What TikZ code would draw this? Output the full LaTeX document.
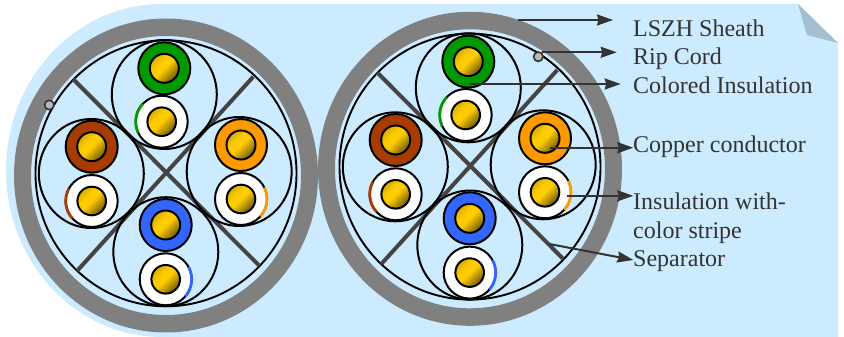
\documentclass[tikz,border=0pt]{standalone}
\usepackage{fontspec}
\setmainfont{Liberation Serif}
\usetikzlibrary{arrows.meta}
\definecolor{bgblue}{HTML}{CCEBFF}
\definecolor{fold}{HTML}{A3BFD1}
\definecolor{sheath}{HTML}{808080}
\definecolor{sep}{HTML}{444444}
\definecolor{ink}{HTML}{333333}
\definecolor{cgreen}{HTML}{009900}
\definecolor{cbrown}{HTML}{A83C00}
\definecolor{corange}{HTML}{FF9900}
\definecolor{cblue}{HTML}{3366FF}
\definecolor{cuA}{HTML}{FFCC00}
\definecolor{cuB}{HTML}{7F6600}
\pgfdeclareverticalshading{coreshade}{100bp}{color(0bp)=(cuB); color(28bp)=(cuB); color(50bp)=(cuA); color(60bp)=(cuA); color(78bp)=(cuB!35!cuA); color(100bp)=(cuB!70!cuA)}
\tikzset{
  sheathring/.style={draw=none,fill=sheath,even odd rule},
  thinring/.style={draw=black,line width=1.9pt},
  paircircle/.style={draw=black,line width=2pt},
  separator/.style={draw=sep,line width=4pt},
  core/.style={draw=black,line width=2pt,shading=coreshade,shading angle=45},
  insulation/.style={draw=black,line width=2pt,fill=#1},
  stripe/.style={draw=#1,line width=2.8pt},
  ripcord/.style={draw=black!80,line width=1.6pt,fill=gray!55},
  callout/.style={draw=ink,line width=2pt,-{Stealth[length=16pt,width=11pt,inset=1.5pt]}},
  lbl/.style={anchor=base west,inner sep=0pt,text=ink,font=\fontsize{24pt}{24pt}\selectfont},
}
\newcommand{\wirepair}[7]{%
  \path[paircircle] (#1,#2) ellipse [x radius=52.5,y radius=54.5];
  \path[insulation=#7] (#3,#4) circle [radius=26];
  \path[core] (#3,#4) circle [radius=14.5];
  \path[insulation=white] (#5,#6) circle [radius=26];
  \path[core] (#5,#6) circle [radius=14.3];
}
\newcommand{\cablebody}{%
  \path[sheathring] (166,175.5) ellipse [x radius=152,y radius=157] (166,175.5) ellipse [x radius=135,y radius=139.5];
  \path[thinring] (166,173.3) ellipse [x radius=130.5,y radius=133];
  \path[separator] (73.3,79.3) -- (259.3,265.7);
  \path[separator] (253.3,76.7) -- (77.3,270.7);
  \wirepair{164.3}{94.5}{164.3}{68.3}{161.7}{121.7}{cgreen}
  \path[stripe=cgreen] (161.7,121.7) ++(-137:26) arc [start angle=-137,end angle=-205,radius=26];
  \wirepair{91.3}{173.5}{91.7}{146.7}{91.7}{201}{cbrown}
  \path[stripe=cbrown] (91.7,201) ++(-151.5:26) arc [start angle=-151.5,end angle=-222,radius=26];
  \wirepair{239.2}{171.5}{241}{145}{241}{199}{corange}
  \path[stripe=corange] (241,199) ++(-26:26) arc [start angle=-26,end angle=42,radius=26];
  \wirepair{165.8}{251.7}{165.7}{225}{165.7}{279.3}{cblue}
  \path[stripe=cblue] (165.7,279.3) ++(-28:26) arc [start angle=-28,end angle=41,radius=26];
}
\begin{document}
\begin{tikzpicture}[x=1pt,y=-1pt]
\useasboundingbox (0,0) rectangle (844,337);
% background sheet
\fill[bgblue] (798,4) -- (838,43) -- (838,337) -- (162,337)
  arc [start angle=90,end angle=270,x radius=156,y radius=166.5] -- cycle;
\fill[fold] (798,4) -- (807,35) -- (838,43) -- cycle;
% left cable
\begin{scope}
  \cablebody
  \path[ripcord] (49.3,105) circle [radius=4.7];
\end{scope}
% right cable
\begin{scope}[shift={(304,-6.7)}]
  \cablebody
\end{scope}
\path[ripcord] (538.3,56.7) circle [radius=4.7];
% labels
\node[lbl] (lsheath) at (633,36.7) {LSZH Sheath};
\node[lbl] (lrip) at (633,65) {Rip Cord};
\node[lbl] (lcolored) at (633,94) {Colored Insulation};
\node[lbl] (lcopper) at (633,152.3) {Copper conductor};
\node[lbl] (linsul) at (633,209.3) {Insulation with-};
\node[lbl] (lstripe) at (633,238) {color stripe};
\node[lbl] (lsep) at (633,266.7) {Separator};
% callouts
\coordinate (ssheath) at (518.3,20);  \coordinate (tsheath) at (613,20);
\coordinate (srip) at (541.7,52.3);   \coordinate (trip) at (616.7,52.3);
\coordinate (scol) at (470,84);       \coordinate (tcol) at (620.7,84);
\coordinate (scop) at (550,147.7);    \coordinate (tcop) at (633.3,147.7);
\coordinate (sins) at (566.7,195.8);  \coordinate (tins) at (633.3,195.8);
\coordinate (ssep) at (549.3,244);    \coordinate (tsep) at (633.3,260);
\draw[callout] (ssheath) -- (tsheath);
\draw[callout] (srip) -- (trip);
\draw[callout] (scol) -- (tcol);
\draw[callout] (scop) -- (tcop);
\draw[callout] (sins) -- (tins);
\draw[callout] (ssep) -- (tsep);
\end{tikzpicture}
\end{document}
